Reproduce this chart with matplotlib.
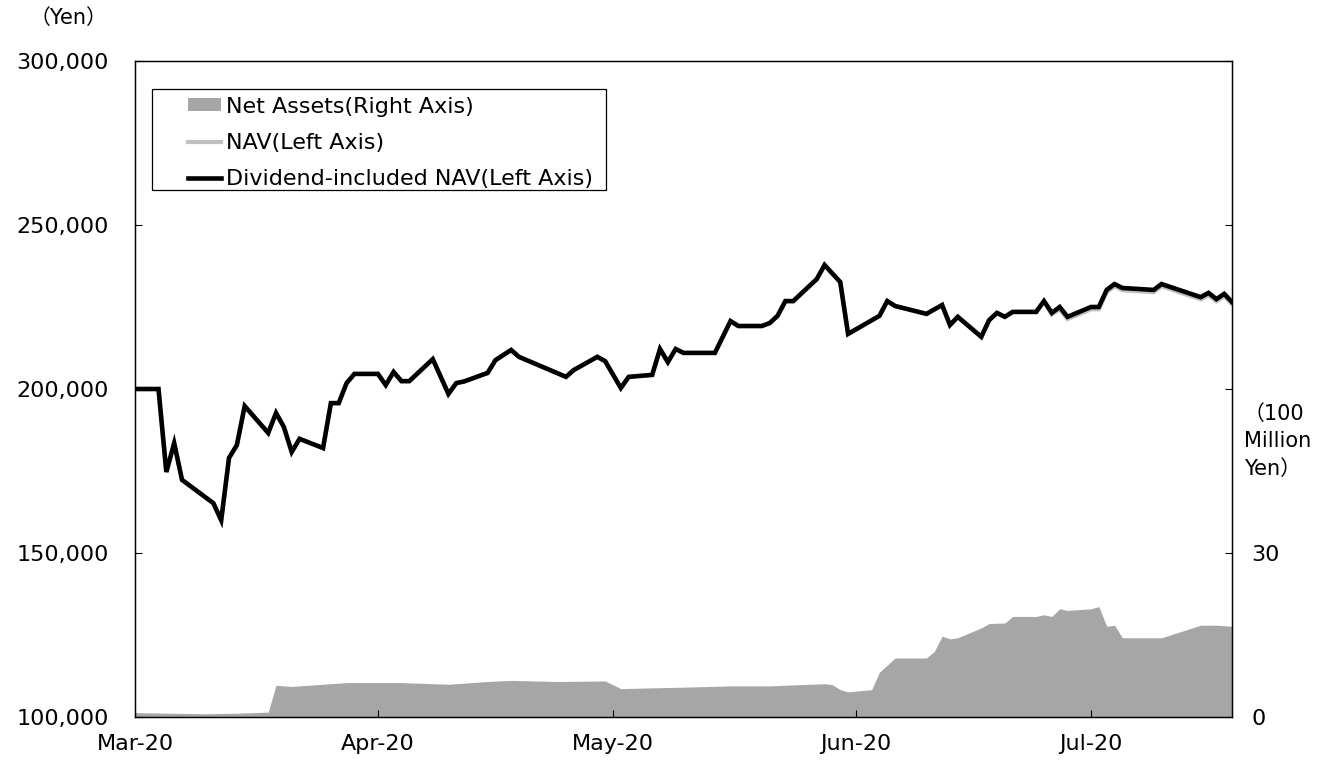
import matplotlib
matplotlib.use("Agg")
import matplotlib.pyplot as plt
import matplotlib.dates as mdates
from matplotlib.patches import Patch, Rectangle
from matplotlib.lines import Line2D
from matplotlib.ticker import FixedLocator, FuncFormatter
import pandas as pd

plt.rcParams['font.family'] = ['DejaVu Sans', 'Noto Sans CJK JP']
plt.rcParams['font.size'] = 16

# NAV series (yen)
nav_dates = [
    "2020-03-01", "2020-03-04", "2020-03-05", "2020-03-06", "2020-03-07",
    "2020-03-11", "2020-03-12", "2020-03-13", "2020-03-14", "2020-03-15",
    "2020-03-18", "2020-03-19", "2020-03-20", "2020-03-21", "2020-03-22",
    "2020-03-25", "2020-03-26", "2020-03-27", "2020-03-28", "2020-03-29",
    "2020-04-01", "2020-04-02", "2020-04-03", "2020-04-04", "2020-04-05",
    "2020-04-08", "2020-04-10", "2020-04-11", "2020-04-12", "2020-04-15",
    "2020-04-16", "2020-04-18", "2020-04-19", "2020-04-25", "2020-04-26",
    "2020-04-29", "2020-04-30", "2020-05-02", "2020-05-03", "2020-05-06",
    "2020-05-07", "2020-05-08", "2020-05-09", "2020-05-10", "2020-05-14",
    "2020-05-16", "2020-05-17", "2020-05-20", "2020-05-21", "2020-05-22",
    "2020-05-23", "2020-05-24", "2020-05-27", "2020-05-28", "2020-05-30",
    "2020-05-31", "2020-06-04", "2020-06-05", "2020-06-06", "2020-06-10",
    "2020-06-12", "2020-06-13", "2020-06-14", "2020-06-17", "2020-06-18",
    "2020-06-19", "2020-06-20", "2020-06-21", "2020-06-24", "2020-06-25",
    "2020-06-26", "2020-06-27", "2020-06-28", "2020-07-01", "2020-07-02",
    "2020-07-03", "2020-07-04", "2020-07-05", "2020-07-09", "2020-07-10",
    "2020-07-15", "2020-07-16", "2020-07-17", "2020-07-18", "2020-07-19",
]
div_nav = [
    200000, 200000, 174700, 183500, 172300,
    165200, 160000, 179000, 182900, 194800,
    186600, 192700, 188400, 180800, 184800,
    182000, 195700, 195700, 201800, 204600,
    204600, 201200, 205200, 202400, 202400,
    209100, 198500, 201800, 202300, 204900,
    208800, 211900, 209800, 203700, 205800,
    209800, 208500, 200300, 203700, 204300,
    212200, 208200, 212200, 211000, 211000,
    220700, 219200, 219200, 220100, 222300,
    226800, 226800, 233500, 237800, 232600,
    216800, 222300, 226800, 225300, 222900,
    225600, 219500, 222000, 215900, 221000,
    223200, 222000, 223500, 223500, 226800,
    223200, 225000, 222000, 225000, 225000,
    230200, 232000, 230800, 230200, 232000,
    228000, 229300, 227400, 229000, 226500,
]
nav = [
    200000, 200000, 174700, 183500, 172300,
    165200, 160000, 179000, 182900, 194800,
    186600, 192700, 188400, 180800, 184800,
    182000, 195700, 195700, 201800, 204600,
    204600, 201200, 205200, 202400, 202400,
    209100, 198500, 201800, 202300, 204900,
    208800, 211900, 209800, 203700, 205800,
    209800, 208500, 200300, 203700, 204300,
    212200, 208200, 212200, 211000, 211000,
    220700, 219200, 219200, 220100, 222300,
    226800, 226800, 233500, 237800, 232600,
    216800, 222300, 226800, 225300, 222900,
    225600, 219500, 222000, 215900, 221000,
    223200, 222000, 223500, 223500, 226800,
    222700, 224300, 221300, 224300, 224300,
    229500, 231300, 230100, 229500, 231300,
    227300, 228600, 226700, 228300, 225800,
]

# Net assets (100 million yen)
asset_dates = [
    "2020-03-01", "2020-03-10", "2020-03-14", "2020-03-18", "2020-03-19",
    "2020-03-21", "2020-03-25", "2020-03-28", "2020-04-04", "2020-04-10",
    "2020-04-15", "2020-04-18", "2020-04-24", "2020-04-30", "2020-05-02",
    "2020-05-11", "2020-05-16", "2020-05-21", "2020-05-28", "2020-05-29",
    "2020-05-30", "2020-05-31", "2020-06-03", "2020-06-04", "2020-06-06",
    "2020-06-10", "2020-06-11", "2020-06-12", "2020-06-13", "2020-06-14",
    "2020-06-17", "2020-06-18", "2020-06-20", "2020-06-21", "2020-06-24",
    "2020-06-25", "2020-06-26", "2020-06-27", "2020-06-28", "2020-07-01",
    "2020-07-02", "2020-07-03", "2020-07-04", "2020-07-05", "2020-07-10",
    "2020-07-15", "2020-07-17", "2020-07-19",
]
net_assets = [
    0.8, 0.6, 0.7, 0.9, 5.8,
    5.6, 6.0, 6.3, 6.3, 6.0,
    6.5, 6.7, 6.5, 6.6, 5.2,
    5.5, 5.7, 5.7, 6.1, 5.9,
    5.0, 4.6, 5.0, 8.2, 10.8,
    10.8, 12.0, 14.8, 14.3, 14.5,
    16.3, 17.1, 17.2, 18.4, 18.4,
    18.7, 18.4, 19.8, 19.5, 19.8,
    20.2, 16.6, 16.8, 14.5, 14.5,
    16.8, 16.8, 16.6,
]

left_ticks = [100000, 150000, 200000, 250000, 300000]
right_ticks = [0, 30, 60, 90, 120]
right_labels = ["0", "30", "", "", ""]

nav_x = pd.to_datetime(nav_dates)
asset_x = pd.to_datetime(asset_dates)

fig = plt.figure(figsize=(13.17, 7.62), dpi=100)
ax = fig.add_axes([0.1025, 0.059, 0.833, 0.861])
ax2 = ax.twinx()

# net assets area on the right axis, kept behind the NAV lines
ax2.fill_between(asset_x, net_assets, 0, color='#a6a6a6', linewidth=0)
ax2.set_ylim(0, 120)
ax2.yaxis.set_major_locator(FixedLocator(right_ticks))
ax2.set_yticklabels(right_labels)
ax2.tick_params(axis='y', direction='in', length=5, pad=14, labelsize=16)

ax.set_zorder(ax2.get_zorder() + 1)
ax.patch.set_visible(False)

ax.plot(nav_x, nav, color='#c0c0c0', linewidth=3.0, solid_joinstyle='miter')
ax.plot(nav_x, div_nav, color='black', linewidth=3.3, solid_joinstyle='miter')

ax.set_ylim(100000, 300000)
ax.set_yticks(left_ticks)
ax.yaxis.set_major_formatter(FuncFormatter(lambda v, p: f"{v:,.0f}"))
ax.tick_params(axis='y', direction='in', length=5, pad=19, labelsize=16)

ax.set_xlim(pd.Timestamp("2020-03-01"), pd.Timestamp("2020-07-19"))
ax.xaxis.set_major_locator(mdates.MonthLocator())
ax.xaxis.set_major_formatter(mdates.DateFormatter('%b-%y'))
ax.tick_params(axis='x', direction='in', length=5, pad=12, labelsize=16)

for a in (ax, ax2):
    for s in a.spines.values():
        s.set_color('black')
        s.set_linewidth(0.9)

fig.text(0.052, 0.976, "（Yen）", ha='center', va='center', fontsize=15)
ax2.text(1.0105, 0.42, "（100\nMillion\nYen）", transform=ax2.transAxes,
         ha='left', va='center', fontsize=15, linespacing=1.45)

# legend box drawn separately so the entries can sit indented inside it
box = Rectangle((0.0155, 0.8034), 0.414, 0.1539, transform=ax.transAxes,
                facecolor='white', edgecolor='black', linewidth=0.9, zorder=4)
ax.add_patch(box)

handles = [
    Patch(facecolor='#a6a6a6', edgecolor='none'),
    Line2D([], [], color='#c0c0c0', linewidth=3.0),
    Line2D([], [], color='black', linewidth=3.3),
]
labels = ["Net Assets(Right Axis)", "NAV(Left Axis)",
          "Dividend-included NAV(Left Axis)"]
leg = ax.legend(handles, labels, loc='upper left',
                bbox_to_anchor=(0.0483, 0.9455), borderaxespad=0,
                frameon=False, fontsize=16, handlelength=1.5,
                handleheight=0.5, handletextpad=0.2, labelspacing=0.72,
                borderpad=0)
leg.set_zorder(5)

fig.savefig("out.png", dpi=100)
